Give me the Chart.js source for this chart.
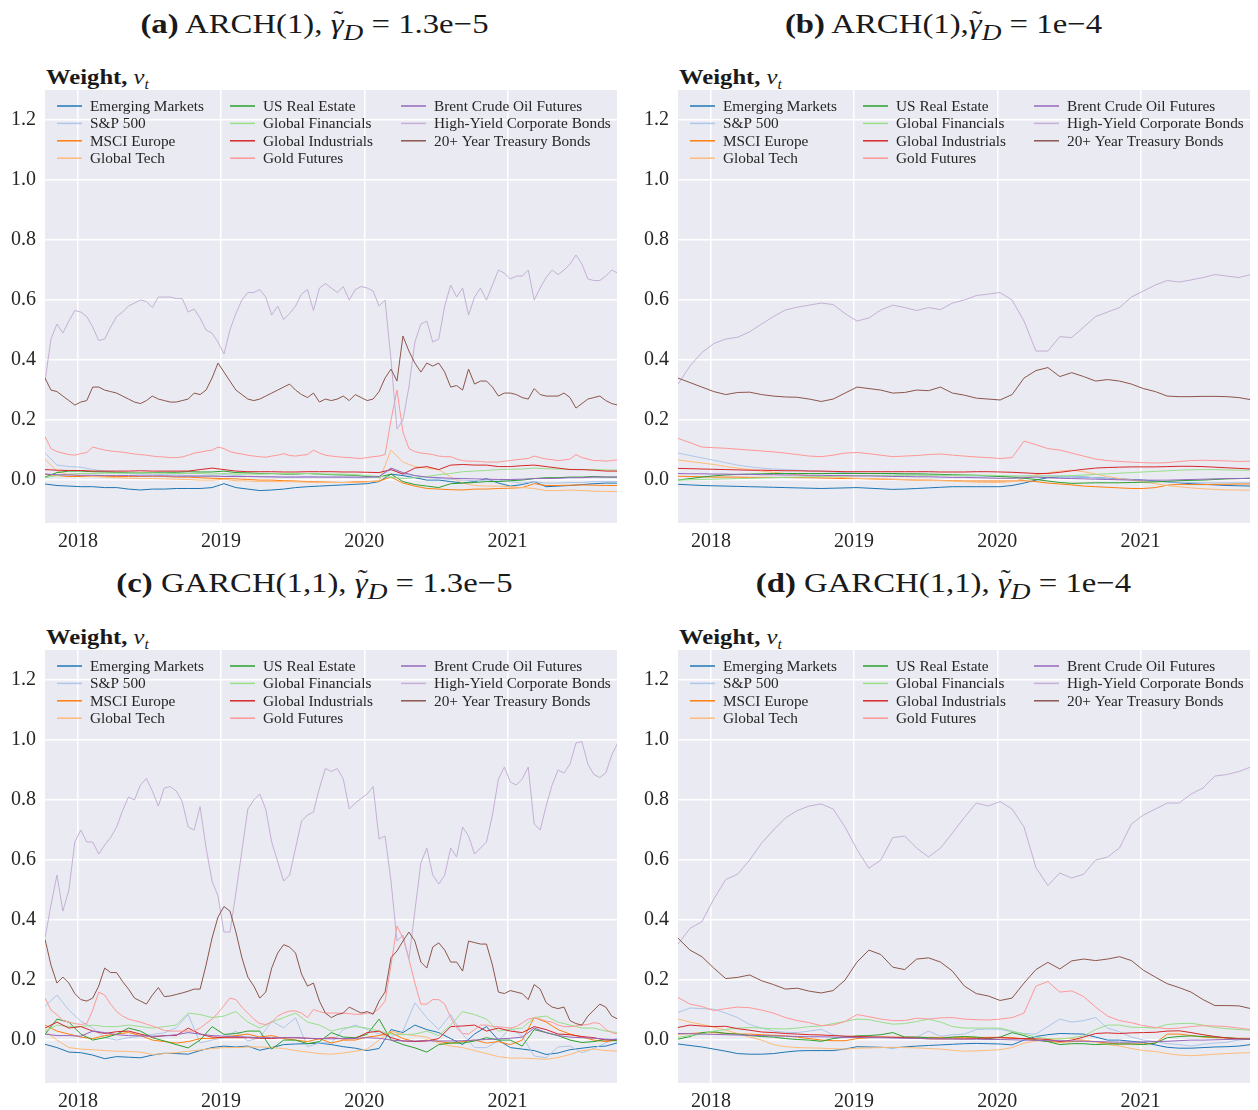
<!DOCTYPE html>
<html>
<head>
<meta charset="utf-8">
<script src="https://cdn.jsdelivr.net/npm/chart.js@4.4.0/dist/chart.umd.min.js"></script>
<style>
  body {
    margin: 0;
    width: 1258px;
    height: 1110px;
    position: relative;
    overflow: hidden;
    background: #fff;
    font-family: "Liberation Serif", serif;
    color: #1a1a1a;
  }
  .title {
    position: absolute;
    width: 629px;
    text-align: center;
    font-size: 28px;
    line-height: 36px;
    white-space: nowrap;
    transform: scaleX(1.17);
    transform-origin: 50% 50%;
  }
  .ylabel {
    position: absolute;
    font-size: 22px;
    line-height: 24px;
    white-space: nowrap;
    transform: scaleX(1.12);
    transform-origin: 0 50%;
  }
  .ylabel sub { font-size: 14px; }
  .gam { position: relative; display: inline-block; }
  .tld { position: absolute; left: 0.1em; top: -0.14em; font-size: 0.9em; font-style: normal; }
  canvas { position: absolute; }
</style>
</head>
<body>

<div class="title" style="left:0;top:6px"><b>(a)</b> ARCH(1), <span class="gam"><i>γ</i><span class="tld">˜</span></span><sub><i>D</i></sub> = 1.3e−5</div>
<div class="title" style="left:629px;top:6px"><b>(b)</b> ARCH(1),<span class="gam"><i>γ</i><span class="tld">˜</span></span><sub><i>D</i></sub> = 1e−4</div>
<div class="title" style="left:0;top:565px"><b>(c)</b> GARCH(1,1), <span class="gam"><i>γ</i><span class="tld">˜</span></span><sub><i>D</i></sub> = 1.3e−5</div>
<div class="title" style="left:629px;top:565px"><b>(d)</b> GARCH(1,1), <span class="gam"><i>γ</i><span class="tld">˜</span></span><sub><i>D</i></sub> = 1e−4</div>

<div class="ylabel" style="left:46px;top:65px"><b>Weight,</b>&nbsp;<i>v</i><sub><i>t</i></sub></div>
<div class="ylabel" style="left:679px;top:65px"><b>Weight,</b>&nbsp;<i>v</i><sub><i>t</i></sub></div>
<div class="ylabel" style="left:46px;top:625px"><b>Weight,</b>&nbsp;<i>v</i><sub><i>t</i></sub></div>
<div class="ylabel" style="left:679px;top:625px"><b>Weight,</b>&nbsp;<i>v</i><sub><i>t</i></sub></div>

<canvas id="chart-a" width="625" height="485" style="left:0;top:80px"></canvas>
<canvas id="chart-b" width="625" height="485" style="left:633px;top:80px"></canvas>
<canvas id="chart-c" width="625" height="485" style="left:0;top:640px"></canvas>
<canvas id="chart-d" width="625" height="485" style="left:633px;top:640px"></canvas>

<script>
// time grids, in decimal years (Oct 2017 -> Oct 2021)
const monthTimes = Array.from({ length: 49 }, (_, i) => 2017.77 + i / 12);
const halfMonthTimes = Array.from({ length: 97 }, (_, i) => 2017.77 + i / 24);
const yearTicks = [2018, 2019, 2020, 2021];

const seriesNames = [
  "Emerging Markets", "S&P 500", "MSCI Europe", "Global Tech",
  "US Real Estate", "Global Financials", "Global Industrials", "Gold Futures",
  "Brent Crude Oil Futures", "High-Yield Corporate Bonds", "20+ Year Treasury Bonds",
];
const seriesColors = [
  "#1f77b4", "#aec7e8", "#ff7f0e", "#ffbb78",
  "#2ca02c", "#98df8a", "#d62728", "#ff9896",
  "#9467bd", "#c5b0d5", "#8c564b",
];

// ---- (a) ARCH(1), gamma = 1.3e-5 ----
const aEmerging = [-0.013, -0.018, -0.02, -0.022, -0.022, -0.025, -0.025, -0.03, -0.033, -0.03, -0.03, -0.028,
  -0.028, -0.028, -0.025, -0.012, -0.025, -0.03, -0.035, -0.033, -0.03, -0.025, -0.022, -0.02,
  -0.018, -0.016, -0.014, -0.012, -0.005, 0.02, 0.015, 0.008, 0.0, 0.0, -0.005, -0.01,
  -0.005, 0.005, -0.01, -0.02, -0.015, -0.005, -0.022, -0.02, -0.018, -0.015, -0.012, -0.01, -0.01];
const aSP500 = [0.09, 0.05, 0.045, 0.043, 0.035, 0.03, 0.025, 0.022, 0.02, 0.02, 0.018, 0.017,
  0.015, 0.015, 0.015, 0.018, 0.015, 0.012, 0.012, 0.01, 0.01, 0.01, 0.012, 0.01,
  0.01, 0.01, 0.008, 0.008, 0.012, 0.035, 0.02, 0.015, 0.01, 0.005, 0.002, 0.0,
  -0.002, 0.0, 0.0, -0.005, -0.01, -0.005, -0.01, -0.01, -0.008, -0.008, -0.005, -0.005, -0.005];
const aEurope = [0.02, 0.015, 0.012, 0.012, 0.013, 0.013, 0.012, 0.012, 0.012, 0.013, 0.012, 0.01,
  0.01, 0.008, 0.006, 0.005, 0.004, 0.002, 0.0, 0.0, -0.002, -0.003, -0.005, -0.006,
  -0.007, -0.008, -0.006, -0.005, -0.003, 0.01, -0.01, -0.02, -0.028, -0.03, -0.032, -0.033,
  -0.03, -0.03, -0.028, -0.027, -0.025, -0.012, -0.018, -0.018, -0.017, -0.016, -0.017, -0.018, -0.018];
const aTech = [0.07, 0.03, 0.018, 0.015, 0.012, 0.01, 0.008, 0.006, 0.005, 0.005, 0.004, 0.003,
  0.002, 0.0, 0.0, 0.003, -0.002, -0.003, -0.005, -0.005, -0.005, -0.006, -0.007, -0.008,
  -0.008, -0.008, -0.008, -0.006, -0.003, 0.10, 0.06, 0.045, 0.04, 0.035, 0.01, -0.01,
  -0.018, -0.02, -0.02, -0.022, -0.025, -0.028, -0.035, -0.035, -0.033, -0.035, -0.037, -0.038, -0.038];
const aRealEstate = [0.01, 0.025, 0.03, 0.03, 0.028, 0.027, 0.026, 0.025, 0.024, 0.025, 0.026, 0.026,
  0.028, 0.027, 0.027, 0.03, 0.025, 0.024, 0.022, 0.022, 0.02, 0.02, 0.022, 0.02,
  0.018, 0.017, 0.016, 0.012, 0.01, 0.02, -0.005, -0.015, -0.02, -0.025, -0.012, -0.01,
  -0.008, -0.005, -0.005, -0.002, 0.0, 0.005, 0.008, 0.008, 0.01, 0.01, 0.012, 0.01, 0.01];
const aFinancials = [0.008, 0.015, 0.02, 0.022, 0.022, 0.023, 0.023, 0.024, 0.024, 0.024, 0.023, 0.022,
  0.022, 0.022, 0.02, 0.022, 0.02, 0.02, 0.02, 0.021, 0.022, 0.022, 0.022, 0.02,
  0.02, 0.02, 0.018, 0.015, 0.012, 0.01, 0.005, 0.008, 0.012, 0.018, 0.022, 0.028,
  0.03, 0.032, 0.035, 0.036, 0.037, 0.04, 0.038, 0.037, 0.036, 0.035, 0.035, 0.034, 0.033];
const aIndustrials = [0.035, 0.033, 0.032, 0.032, 0.03, 0.03, 0.03, 0.03, 0.031, 0.03, 0.03, 0.03,
  0.03, 0.035, 0.04, 0.035, 0.03, 0.028, 0.028, 0.028, 0.027, 0.027, 0.028, 0.028,
  0.028, 0.027, 0.027, 0.026, 0.025, 0.035, 0.02, 0.04, 0.045, 0.035, 0.05, 0.052,
  0.05, 0.05, 0.045, 0.045, 0.048, 0.05, 0.045, 0.04, 0.035, 0.035, 0.033, 0.03, 0.03];
const aGold = [0.145, 0.105, 0.095, 0.09, 0.085, 0.083, 0.088, 0.092, 0.11, 0.105, 0.10, 0.097,
  0.095, 0.093, 0.09, 0.087, 0.085, 0.083, 0.08, 0.078, 0.077, 0.075, 0.075, 0.077,
  0.083, 0.09, 0.093, 0.097, 0.10, 0.11, 0.105, 0.095, 0.09, 0.087, 0.083, 0.08,
  0.078, 0.076, 0.08, 0.083, 0.088, 0.082, 0.08, 0.083, 0.085, 0.10, 0.09, 0.083,
  0.08, 0.078, 0.076, 0.075, 0.073, 0.072, 0.075, 0.078, 0.08, 0.085, 0.2, 0.30,
  0.16, 0.105, 0.095, 0.09, 0.088, 0.085, 0.08, 0.078, 0.078, 0.07, 0.065, 0.063,
  0.063, 0.062, 0.06, 0.06, 0.06, 0.063, 0.065, 0.068, 0.07, 0.072, 0.08, 0.075,
  0.07, 0.068, 0.065, 0.067, 0.07, 0.085, 0.075, 0.07, 0.065, 0.065, 0.063, 0.065, 0.068];
const aBrent = [0.02, 0.018, 0.017, 0.016, 0.016, 0.015, 0.015, 0.015, 0.014, 0.014, 0.014, 0.013,
  0.013, 0.013, 0.013, 0.012, 0.012, 0.012, 0.011, 0.011, 0.01, 0.01, 0.01, 0.01,
  0.01, 0.01, 0.01, 0.01, 0.012, 0.04, 0.025, 0.015, 0.01, 0.008, 0.006, 0.005,
  0.004, 0.003, 0.002, 0.002, 0.003, 0.005, 0.005, 0.006, 0.008, 0.008, 0.01, 0.01, 0.01];
const aHighYield = [0.33, 0.47, 0.52, 0.49, 0.53, 0.565, 0.56, 0.545, 0.51, 0.465, 0.47, 0.51,
  0.545, 0.56, 0.58, 0.59, 0.60, 0.595, 0.575, 0.61, 0.61, 0.61, 0.605, 0.605,
  0.56, 0.57, 0.54, 0.50, 0.49, 0.46, 0.42, 0.50, 0.555, 0.60, 0.625, 0.625,
  0.635, 0.61, 0.55, 0.58, 0.535, 0.555, 0.58, 0.62, 0.635, 0.565, 0.64, 0.655,
  0.64, 0.625, 0.645, 0.60, 0.635, 0.645, 0.64, 0.63, 0.58, 0.6, 0.40, 0.17,
  0.20, 0.31, 0.46, 0.52, 0.53, 0.46, 0.47, 0.58, 0.65, 0.61, 0.64, 0.55,
  0.61, 0.64, 0.6, 0.65, 0.70, 0.69, 0.67, 0.68, 0.68, 0.70, 0.60, 0.64,
  0.675, 0.70, 0.685, 0.70, 0.72, 0.75, 0.72, 0.67, 0.665, 0.665, 0.68, 0.70, 0.69];
const aTreasury = [0.34, 0.30, 0.295, 0.28, 0.265, 0.25, 0.26, 0.265, 0.31, 0.31, 0.30, 0.295,
  0.29, 0.28, 0.27, 0.26, 0.255, 0.265, 0.28, 0.27, 0.265, 0.26, 0.26, 0.265,
  0.27, 0.29, 0.285, 0.30, 0.34, 0.39, 0.36, 0.33, 0.30, 0.285, 0.27, 0.265,
  0.27, 0.28, 0.29, 0.30, 0.31, 0.32, 0.30, 0.285, 0.275, 0.29, 0.26, 0.27,
  0.265, 0.27, 0.28, 0.265, 0.285, 0.275, 0.265, 0.27, 0.295, 0.34, 0.37, 0.33,
  0.48, 0.43, 0.39, 0.36, 0.39, 0.38, 0.39, 0.36, 0.31, 0.315, 0.30, 0.37,
  0.32, 0.33, 0.33, 0.31, 0.28, 0.29, 0.29, 0.285, 0.275, 0.27, 0.305, 0.285,
  0.28, 0.28, 0.28, 0.29, 0.275, 0.24, 0.255, 0.27, 0.275, 0.28, 0.265, 0.255, 0.25];

// ---- (b) ARCH(1), gamma = 1e-4 ----
const bEmerging = [-0.014, -0.016, -0.018, -0.019, -0.02, -0.021, -0.022, -0.023, -0.024, -0.025, -0.026, -0.027,
  -0.028, -0.027, -0.026, -0.025, -0.027, -0.029, -0.031, -0.03, -0.028, -0.026, -0.024, -0.022,
  -0.022, -0.022, -0.022, -0.022, -0.018, -0.01, 0.0, 0.008, 0.011, 0.011, 0.01, 0.008,
  0.006, 0.004, 0.002, 0.0, -0.003, -0.006, -0.009, -0.012, -0.014, -0.016, -0.018, -0.019, -0.02];
const bSP500 = [0.09, 0.082, 0.074, 0.066, 0.058, 0.05, 0.044, 0.04, 0.037, 0.035, 0.033, 0.031,
  0.029, 0.027, 0.025, 0.023, 0.022, 0.021, 0.02, 0.019, 0.018, 0.017, 0.016, 0.015,
  0.014, 0.013, 0.012, 0.012, 0.012, 0.014, 0.016, 0.015, 0.013, 0.012, 0.01, 0.008,
  0.005, 0.003, 0.001, -0.002, -0.004, -0.006, -0.007, -0.008, -0.009, -0.009, -0.009, -0.009, -0.009];
const bEurope = [0.013, 0.012, 0.011, 0.01, 0.01, 0.01, 0.009, 0.009, 0.009, 0.009, 0.008, 0.008,
  0.007, 0.006, 0.005, 0.005, 0.004, 0.003, 0.002, 0.001, 0.0, 0.0, -0.001, -0.002,
  -0.003, -0.003, -0.003, -0.003, -0.003, -0.002, -0.005, -0.01, -0.013, -0.016, -0.02, -0.022,
  -0.024, -0.026, -0.028, -0.028, -0.025, -0.017, -0.014, -0.015, -0.015, -0.014, -0.014, -0.013, -0.013];
const bTech = [0.067, 0.062, 0.057, 0.052, 0.045, 0.04, 0.035, 0.03, 0.026, 0.022, 0.018, 0.015,
  0.012, 0.01, 0.008, 0.006, 0.005, 0.004, 0.003, 0.002, 0.0, -0.001, -0.002, -0.003,
  -0.005, -0.007, -0.008, -0.008, -0.005, 0.005, 0.018, 0.024, 0.03, 0.033, 0.028, 0.02,
  0.012, 0.005, 0.0, -0.005, -0.012, -0.018, -0.022, -0.026, -0.029, -0.031, -0.033, -0.033, -0.034];
const bRealEstate = [0.0, 0.005, 0.01, 0.014, 0.017, 0.019, 0.02, 0.021, 0.022, 0.022, 0.022, 0.022,
  0.022, 0.022, 0.022, 0.022, 0.022, 0.022, 0.022, 0.021, 0.021, 0.02, 0.019, 0.018,
  0.017, 0.016, 0.014, 0.012, 0.01, 0.006, 0.002, -0.003, -0.008, -0.011, -0.01, -0.009,
  -0.009, -0.009, -0.008, -0.007, -0.006, -0.004, -0.002, -0.001, 0.0, 0.002, 0.004, 0.005, 0.006];
const bFinancials = [0.0, 0.001, 0.002, 0.003, 0.004, 0.005, 0.006, 0.007, 0.008, 0.009, 0.01, 0.011,
  0.012, 0.013, 0.013, 0.014, 0.014, 0.015, 0.015, 0.016, 0.016, 0.016, 0.016, 0.016,
  0.016, 0.016, 0.016, 0.015, 0.014, 0.013, 0.013, 0.013, 0.014, 0.015, 0.017, 0.019,
  0.021, 0.023, 0.025, 0.027, 0.029, 0.031, 0.033, 0.034, 0.035, 0.035, 0.034, 0.033, 0.033];
const bIndustrials = [0.039, 0.038, 0.037, 0.036, 0.035, 0.034, 0.033, 0.033, 0.032, 0.031, 0.031, 0.03,
  0.03, 0.029, 0.028, 0.028, 0.028, 0.028, 0.028, 0.028, 0.028, 0.028, 0.027, 0.027,
  0.027, 0.028, 0.028, 0.027, 0.026, 0.024, 0.022, 0.022, 0.026, 0.031, 0.036, 0.04,
  0.042, 0.043, 0.044, 0.044, 0.044, 0.045, 0.046, 0.046, 0.045, 0.043, 0.041, 0.039, 0.037];
const bGold = [0.139, 0.125, 0.11, 0.108, 0.106, 0.103, 0.1, 0.097, 0.094, 0.09, 0.085, 0.08,
  0.078, 0.083, 0.09, 0.092, 0.088, 0.083, 0.078, 0.08, 0.082, 0.085, 0.087, 0.083,
  0.08, 0.077, 0.075, 0.072, 0.075, 0.13, 0.118, 0.105, 0.1, 0.09, 0.08, 0.07,
  0.065, 0.062, 0.06, 0.058, 0.057, 0.058, 0.062, 0.065, 0.066, 0.065, 0.064, 0.062, 0.063];
const bBrent = [0.022, 0.021, 0.021, 0.02, 0.02, 0.019, 0.019, 0.018, 0.018, 0.017, 0.017, 0.016,
  0.016, 0.015, 0.015, 0.014, 0.014, 0.013, 0.012, 0.012, 0.011, 0.011, 0.01, 0.009,
  0.009, 0.008, 0.007, 0.006, 0.006, 0.008, 0.01, 0.008, 0.006, 0.005, 0.004, 0.003,
  0.002, 0.001, 0.0, 0.0, 0.0, 0.0, 0.001, 0.002, 0.003, 0.004, 0.005, 0.005, 0.006];
const bHighYield = [0.32, 0.38, 0.425, 0.455, 0.47, 0.476, 0.494, 0.52, 0.545, 0.567, 0.576, 0.583,
  0.59, 0.585, 0.555, 0.53, 0.54, 0.567, 0.583, 0.575, 0.565, 0.575, 0.568, 0.59,
  0.6, 0.615, 0.62, 0.625, 0.6, 0.53, 0.43, 0.43, 0.478, 0.475, 0.51, 0.545,
  0.56, 0.575, 0.61, 0.63, 0.65, 0.665, 0.66, 0.667, 0.675, 0.685, 0.68, 0.675, 0.685];
const bTreasury = [0.34, 0.325, 0.31, 0.295, 0.285, 0.292, 0.293, 0.285, 0.28, 0.277, 0.276, 0.27,
  0.262, 0.27, 0.29, 0.31, 0.305, 0.3, 0.29, 0.292, 0.3, 0.298, 0.31, 0.29,
  0.283, 0.273, 0.27, 0.267, 0.285, 0.34, 0.365, 0.375, 0.345, 0.358, 0.345, 0.33,
  0.335, 0.33, 0.32, 0.305, 0.295, 0.28, 0.278, 0.278, 0.279, 0.279, 0.278, 0.275, 0.268];

// ---- (c) GARCH(1,1), gamma = 1.3e-5 ----
const cEmerging = [-0.014, -0.025, -0.04, -0.042, -0.05, -0.062, -0.055, -0.057, -0.059, -0.05, -0.044, -0.045,
  -0.047, -0.035, -0.025, -0.02, -0.023, -0.02, -0.034, -0.025, -0.015, -0.013, -0.012, -0.01,
  -0.015, -0.022, -0.027, -0.035, -0.028, 0.035, 0.025, 0.05, 0.035, 0.025, 0.005, -0.015,
  0.02, 0.045, 0.0, -0.025, -0.03, -0.035, -0.048, -0.043, -0.032, -0.027, -0.022, -0.02, -0.009];
const cSP500 = [0.113, 0.15, 0.10, 0.063, 0.04, 0.008, 0.0, 0.008, 0.013, 0.019, 0.024, 0.041,
  0.085, -0.009, 0.0, 0.008, 0.03, -0.003, 0.008, 0.063, 0.041, 0.074, -0.023, -0.009,
  -0.009, 0.035, 0.05, 0.035, 0.021, 0.01, 0.03, 0.124, 0.074, 0.035, 0.085, 0.019,
  -0.025, -0.025, -0.003, 0.041, 0.013, -0.053, -0.059, -0.023, -0.02, -0.042, -0.028, -0.009, 0.008];
const cEurope = [0.05, 0.03, 0.02, 0.01, 0.005, 0.015, 0.02, 0.025, 0.015, 0.0, -0.005, -0.01,
  -0.005, 0.005, 0.005, 0.01, 0.015, 0.02, 0.01, 0.015, 0.005, 0.0, -0.005, 0.005,
  -0.01, 0.0, 0.0, 0.01, 0.015, 0.025, 0.005, -0.005, 0.0, -0.005, -0.01, -0.005,
  0.0, -0.01, -0.005, -0.015, 0.0, 0.075, 0.06, 0.035, 0.02, 0.01, 0.0, -0.005, 0.0];
const cTech = [0.03, 0.0, -0.025, -0.03, -0.032, -0.035, -0.037, -0.038, -0.04, -0.048, -0.045, -0.042,
  -0.037, -0.033, -0.028, -0.025, -0.025, -0.023, -0.023, -0.025, -0.028, -0.035, -0.04, -0.045,
  -0.047, -0.043, -0.037, -0.03, 0.0, 0.03, 0.02, 0.015, 0.01, -0.01, -0.02, -0.025,
  -0.035, -0.045, -0.055, -0.06, -0.06, -0.062, -0.064, -0.058, -0.048, -0.035, -0.03, -0.035, -0.037];
const cRealEstate = [0.019, 0.07, 0.06, 0.02, 0.0, 0.008, 0.019, 0.04, 0.03, 0.008, -0.003, -0.015,
  -0.026, 0.0, 0.045, 0.019, 0.022, 0.03, 0.03, -0.03, 0.0, 0.0, -0.012, -0.005,
  0.025, 0.01, 0.008, 0.019, 0.07, 0.0, -0.015, -0.026, -0.04, -0.015, -0.01, -0.01,
  -0.003, 0.008, 0.0, 0.0, -0.02, 0.035, 0.025, 0.015, 0.0, -0.008, -0.005, 0.002, -0.003];
const cFinancials = [0.03, 0.05, 0.045, 0.045, 0.05, 0.045, 0.045, 0.05, 0.045, 0.04, 0.045, 0.05,
  0.09, 0.085, 0.075, 0.08, 0.095, 0.06, 0.04, 0.06, 0.075, 0.09, 0.06, 0.05,
  0.03, 0.04, 0.045, 0.04, 0.03, 0.02, 0.018, 0.02, 0.03, 0.015, 0.05, 0.095,
  0.085, 0.07, 0.03, 0.035, 0.04, 0.075, 0.08, 0.06, 0.05, 0.04, 0.04, 0.03, 0.025];
const cIndustrials = [0.04, 0.06, 0.04, 0.045, 0.03, 0.022, 0.028, 0.03, 0.02, 0.01, 0.015, 0.015,
  0.04, 0.02, 0.01, 0.008, 0.008, 0.008, 0.006, 0.005, 0.008, 0.008, 0.006, 0.004,
  0.008, 0.004, 0.005, 0.025, 0.03, 0.008, -0.003, -0.005, -0.003, 0.005, 0.045, 0.047,
  0.05, 0.03, 0.04, 0.03, 0.025, 0.045, 0.035, 0.02, 0.018, 0.012, 0.008, 0.0, 0.002];
const cGold = [0.14, 0.10, 0.085, 0.065, 0.06, 0.055, 0.052, 0.055, 0.10, 0.16, 0.15, 0.12,
  0.095, 0.08, 0.07, 0.065, 0.06, 0.053, 0.047, 0.04, 0.032, 0.03, 0.03, 0.03,
  0.03, 0.03, 0.04, 0.055, 0.07, 0.09, 0.115, 0.14, 0.135, 0.11, 0.09, 0.07,
  0.055, 0.052, 0.06, 0.08, 0.09, 0.097, 0.097, 0.09, 0.075, 0.102, 0.095, 0.09,
  0.09, 0.09, 0.09, 0.088, 0.086, 0.086, 0.09, 0.09, 0.105, 0.13, 0.25, 0.38,
  0.34, 0.27, 0.19, 0.12, 0.12, 0.135, 0.135, 0.12, 0.075, 0.04, 0.022, 0.02,
  0.035, 0.05, 0.05, 0.045, 0.045, 0.042, 0.04, 0.045, 0.057, 0.07, 0.074, 0.07,
  0.063, 0.06, 0.05, 0.045, 0.045, 0.047, 0.05, 0.052, 0.058, 0.055, 0.035, 0.025, 0.02];
const cBrent = [0.02, 0.015, 0.015, 0.013, 0.03, 0.025, 0.018, 0.015, 0.014, 0.013, 0.014, 0.018,
  0.025, 0.02, 0.015, 0.013, 0.012, 0.01, 0.008, 0.008, 0.008, 0.008, 0.006, 0.005,
  0.004, 0.005, 0.006, 0.008, 0.006, 0.0, -0.003, -0.003, -0.002, -0.003, -0.003, -0.002,
  0.0, 0.002, 0.004, 0.006, 0.01, 0.04, 0.025, 0.015, 0.01, 0.008, 0.006, 0.003, 0.002];
const cHighYield = [0.34, 0.45, 0.55, 0.43, 0.50, 0.66, 0.70, 0.66, 0.66, 0.62, 0.65, 0.675,
  0.71, 0.765, 0.81, 0.80, 0.85, 0.872, 0.83, 0.78, 0.84, 0.845, 0.83, 0.795,
  0.71, 0.70, 0.778, 0.64, 0.53, 0.48, 0.36, 0.36, 0.49, 0.63, 0.77, 0.80,
  0.82, 0.77, 0.66, 0.595, 0.53, 0.55, 0.64, 0.73, 0.75, 0.76, 0.84, 0.905,
  0.895, 0.905, 0.87, 0.77, 0.79, 0.805, 0.82, 0.845, 0.67, 0.68, 0.53, 0.33,
  0.35, 0.27, 0.43, 0.59, 0.64, 0.55, 0.52, 0.55, 0.64, 0.61, 0.71, 0.68,
  0.62, 0.64, 0.66, 0.75, 0.87, 0.91, 0.86, 0.85, 0.87, 0.91, 0.72, 0.70,
  0.78, 0.85, 0.90, 0.89, 0.92, 0.99, 0.995, 0.92, 0.885, 0.875, 0.89, 0.95, 0.99];
const cTreasury = [0.336, 0.25, 0.19, 0.21, 0.19, 0.155, 0.135, 0.13, 0.14, 0.18, 0.24, 0.225,
  0.225, 0.195, 0.17, 0.14, 0.13, 0.12, 0.15, 0.175, 0.145, 0.147, 0.152, 0.157,
  0.163, 0.17, 0.17, 0.25, 0.34, 0.41, 0.445, 0.43, 0.36, 0.275, 0.21, 0.18,
  0.14, 0.16, 0.24, 0.29, 0.318, 0.31, 0.29, 0.22, 0.18, 0.19, 0.13, 0.09,
  0.075, 0.085, 0.09, 0.11, 0.10, 0.09, 0.095, 0.086, 0.13, 0.16, 0.275, 0.297,
  0.33, 0.36, 0.33, 0.26, 0.24, 0.31, 0.324, 0.30, 0.26, 0.26, 0.23, 0.33,
  0.325, 0.32, 0.32, 0.25, 0.16, 0.155, 0.165, 0.16, 0.155, 0.135, 0.185, 0.17,
  0.125, 0.11, 0.105, 0.11, 0.065, 0.055, 0.05, 0.08, 0.10, 0.12, 0.11, 0.08, 0.07];

// ---- (d) GARCH(1,1), gamma = 1e-4 ----
const dEmerging = [-0.013, -0.018, -0.023, -0.03, -0.037, -0.045, -0.047, -0.047, -0.045, -0.04, -0.036, -0.035,
  -0.035, -0.035, -0.03, -0.022, -0.023, -0.024, -0.026, -0.023, -0.02, -0.018, -0.016, -0.014,
  -0.012, -0.011, -0.012, -0.013, -0.016, 0.0, 0.012, 0.018, 0.022, 0.021, 0.02, 0.01,
  0.0, 0.0, -0.004, -0.008, -0.016, -0.024, -0.027, -0.027, -0.025, -0.023, -0.022, -0.02, -0.015];
const dSP500 = [0.092, 0.107, 0.105, 0.103, 0.09, 0.075, 0.052, 0.04, 0.03, 0.026, 0.025, 0.03,
  0.036, 0.018, 0.012, 0.009, 0.009, 0.009, 0.009, 0.009, 0.01, 0.03, 0.013, 0.018,
  0.02, 0.035, 0.037, 0.036, 0.028, 0.022, 0.02, 0.045, 0.07, 0.06, 0.065, 0.075,
  0.04, 0.028, 0.01, 0.0, -0.005, -0.012, -0.015, -0.02, -0.014, -0.01, -0.007, 0.0, 0.003];
const dEurope = [0.02, 0.022, 0.024, 0.025, 0.023, 0.02, 0.02, 0.018, 0.016, 0.014, 0.01, 0.005,
  0.0, -0.002, -0.002, 0.005, 0.008, 0.01, 0.01, 0.01, 0.009, 0.009, 0.009, 0.009,
  0.009, 0.009, 0.009, 0.009, 0.008, 0.004, 0.0, -0.004, -0.007, -0.005, -0.002, -0.005,
  -0.01, -0.013, -0.013, -0.013, -0.01, 0.02, 0.02, 0.015, 0.01, 0.008, 0.007, 0.006, 0.006];
const dTech = [0.07, 0.06, 0.052, 0.043, 0.033, 0.022, 0.01, 0.0, -0.015, -0.022, -0.025, -0.026,
  -0.027, -0.029, -0.03, -0.027, -0.026, -0.025, -0.024, -0.025, -0.026, -0.028, -0.03, -0.034,
  -0.037, -0.036, -0.034, -0.032, -0.025, -0.01, -0.003, 0.0, 0.006, 0.005, 0.0, -0.008,
  -0.015, -0.02, -0.028, -0.035, -0.038, -0.045, -0.05, -0.052, -0.05, -0.047, -0.045, -0.043, -0.042];
const dRealEstate = [0.003, 0.012, 0.025, 0.028, 0.022, 0.02, 0.015, 0.012, 0.01, 0.005, 0.002, 0.0,
  -0.004, 0.005, 0.01, 0.014, 0.015, 0.018, 0.025, 0.01, 0.01, 0.008, 0.006, 0.01,
  0.012, 0.01, 0.005, 0.01, 0.025, 0.015, 0.0, -0.005, -0.015, -0.012, -0.012, -0.015,
  -0.013, -0.013, -0.013, -0.015, -0.01, 0.008, 0.012, 0.014, 0.012, 0.01, 0.008, 0.005, 0.003];
const dFinancials = [0.009, 0.015, 0.02, 0.03, 0.035, 0.04, 0.042, 0.04, 0.038, 0.037, 0.04, 0.045,
  0.047, 0.055, 0.062, 0.07, 0.068, 0.06, 0.053, 0.055, 0.062, 0.07, 0.06, 0.045,
  0.04, 0.04, 0.04, 0.04, 0.03, 0.02, 0.01, 0.005, 0.003, 0.008, 0.014, 0.035,
  0.05, 0.05, 0.043, 0.042, 0.04, 0.052, 0.055, 0.056, 0.05, 0.042, 0.038, 0.035, 0.033];
const dIndustrials = [0.042, 0.05, 0.047, 0.045, 0.046, 0.038, 0.033, 0.027, 0.025, 0.022, 0.02, 0.018,
  0.017, 0.015, 0.013, 0.012, 0.011, 0.01, 0.009, 0.008, 0.006, 0.004, 0.004, 0.004,
  0.004, 0.005, 0.007, 0.008, 0.006, 0.005, 0.004, 0.002, -0.005, 0.0, 0.01, 0.022,
  0.024, 0.022, 0.024, 0.025, 0.026, 0.03, 0.031, 0.025, 0.018, 0.012, 0.007, 0.004, 0.003];
const dGold = [0.142, 0.12, 0.112, 0.098, 0.105, 0.11, 0.108, 0.1, 0.09, 0.075, 0.065, 0.058,
  0.048, 0.05, 0.062, 0.085, 0.078, 0.07, 0.065, 0.065, 0.073, 0.07, 0.074, 0.075,
  0.07, 0.068, 0.067, 0.07, 0.075, 0.09, 0.18, 0.195, 0.16, 0.164, 0.145, 0.11,
  0.08, 0.065, 0.058, 0.048, 0.042, 0.038, 0.04, 0.045, 0.048, 0.047, 0.045, 0.04, 0.035];
const dBrent = [0.022, 0.021, 0.02, 0.019, 0.018, 0.017, 0.016, 0.015, 0.014, 0.013, 0.012, 0.011,
  0.011, 0.01, 0.009, 0.009, 0.008, 0.008, 0.007, 0.006, 0.006, 0.005, 0.004, 0.004,
  0.003, 0.003, 0.002, 0.002, 0.001, 0.0, -0.001, -0.002, -0.002, -0.003, -0.004, -0.005,
  -0.006, -0.007, -0.007, -0.006, -0.005, -0.004, -0.002, 0.0, 0.0, 0.001, 0.002, 0.003, 0.003];
const dHighYield = [0.32, 0.372, 0.395, 0.47, 0.535, 0.553, 0.6, 0.656, 0.7, 0.74, 0.765, 0.78,
  0.787, 0.77, 0.71, 0.635, 0.573, 0.6, 0.675, 0.68, 0.64, 0.61, 0.64, 0.69,
  0.742, 0.79, 0.78, 0.795, 0.77, 0.71, 0.575, 0.515, 0.557, 0.54, 0.553, 0.6,
  0.61, 0.64, 0.72, 0.75, 0.77, 0.79, 0.79, 0.82, 0.84, 0.88, 0.885, 0.895, 0.91];
const dTreasury = [0.34, 0.3, 0.278, 0.24, 0.205, 0.209, 0.217, 0.198, 0.185, 0.17, 0.173, 0.163,
  0.157, 0.165, 0.2, 0.26, 0.3, 0.285, 0.243, 0.235, 0.27, 0.274, 0.26, 0.23,
  0.18, 0.155, 0.147, 0.132, 0.14, 0.19, 0.235, 0.259, 0.237, 0.264, 0.27, 0.265,
  0.27, 0.278, 0.265, 0.233, 0.21, 0.188, 0.175, 0.16, 0.135, 0.115, 0.115, 0.114, 0.105];

const panels = [
  { id: "chart-a", series: [aEmerging, aSP500, aEurope, aTech, aRealEstate, aFinancials, aIndustrials, aGold, aBrent, aHighYield, aTreasury] },
  { id: "chart-b", series: [bEmerging, bSP500, bEurope, bTech, bRealEstate, bFinancials, bIndustrials, bGold, bBrent, bHighYield, bTreasury] },
  { id: "chart-c", series: [cEmerging, cSP500, cEurope, cTech, cRealEstate, cFinancials, cIndustrials, cGold, cBrent, cHighYield, cTreasury] },
  { id: "chart-d", series: [dEmerging, dSP500, dEurope, dTech, dRealEstate, dFinancials, dIndustrials, dGold, dBrent, dHighYield, dTreasury] },
];

const FONT = "'Liberation Serif', serif";
const TEXT = "#262626";

// seaborn-ish grey plot background
const plotBackground = {
  id: "plotBackground",
  beforeDraw(chart) {
    const { ctx, chartArea: a } = chart;
    ctx.save();
    ctx.fillStyle = "#eaeaf2";
    ctx.fillRect(a.left, a.top, a.right - a.left, a.bottom - a.top);
    ctx.restore();
  },
};

// frameless 3-column legend inside the plot, filled column by column
const insideLegend = {
  id: "insideLegend",
  afterDraw(chart) {
    const { ctx, chartArea: a } = chart;
    const columns = [[0, 1, 2, 3], [4, 5, 6, 7], [8, 9, 10]];
    const colX = [12, 185, 356];
    ctx.save();
    ctx.font = "15.3px " + FONT;
    ctx.textBaseline = "middle";
    columns.forEach((idxs, c) => {
      idxs.forEach((k, r) => {
        const ds = chart.data.datasets[k];
        const x = a.left + colX[c];
        const y = a.top + 16 + r * 17.4;
        ctx.strokeStyle = ds.borderColor;
        ctx.lineWidth = 1.5;
        ctx.beginPath();
        ctx.moveTo(x, y);
        ctx.lineTo(x + 25, y);
        ctx.stroke();
        ctx.fillStyle = TEXT;
        ctx.fillText(ds.label, x + 33, y + 1);
      });
    });
    ctx.restore();
  },
};

function toPoints(values) {
  const times = values.length === monthTimes.length ? monthTimes : halfMonthTimes;
  return values.map((v, i) => ({ x: times[i], y: v }));
}

for (const panel of panels) {
  const datasets = panel.series.map((values, k) => ({
    label: seriesNames[k],
    data: toPoints(values),
    borderColor: seriesColors[k],
    borderWidth: 1,
    pointRadius: 0,
    tension: 0,
    order: seriesNames.length - k, // later series on top, like matplotlib
  }));

  new Chart(document.getElementById(panel.id), {
    type: "line",
    data: { datasets },
    options: {
      responsive: false,
      animation: false,
      layout: { padding: { top: 10, right: 8, left: 0, bottom: 0 } },
      plugins: { legend: { display: false }, tooltip: { enabled: false } },
      scales: {
        x: {
          type: "linear",
          min: 2017.77,
          max: 2021.765,
          afterFit: (s) => { s.height = 42; s.paddingLeft = 0; s.paddingRight = 0; },
          grid: { color: "#ffffff", lineWidth: 1.5, drawTicks: false },
          border: { display: false },
          afterBuildTicks: (s) => { s.ticks = yearTicks.map((v) => ({ value: v })); },
          ticks: {
            padding: 7,
            color: TEXT,
            maxRotation: 0,
            autoSkip: false,
            font: { family: FONT, size: 20 },
            callback: (v) => String(v),
          },
        },
        y: {
          min: -0.143,
          max: 1.3,
          afterFit: (s) => { s.width = 45; s.paddingTop = 0; s.paddingBottom = 0; },
          grid: { color: "#ffffff", lineWidth: 1.5, drawTicks: false },
          border: { display: false },
          ticks: {
            stepSize: 0.2,
            includeBounds: false,
            padding: 9,
            color: TEXT,
            font: { family: FONT, size: 20 },
            callback: (v) => v.toFixed(1),
          },
        },
      },
    },
    plugins: [plotBackground, insideLegend],
  });
}
</script>
</body>
</html>
